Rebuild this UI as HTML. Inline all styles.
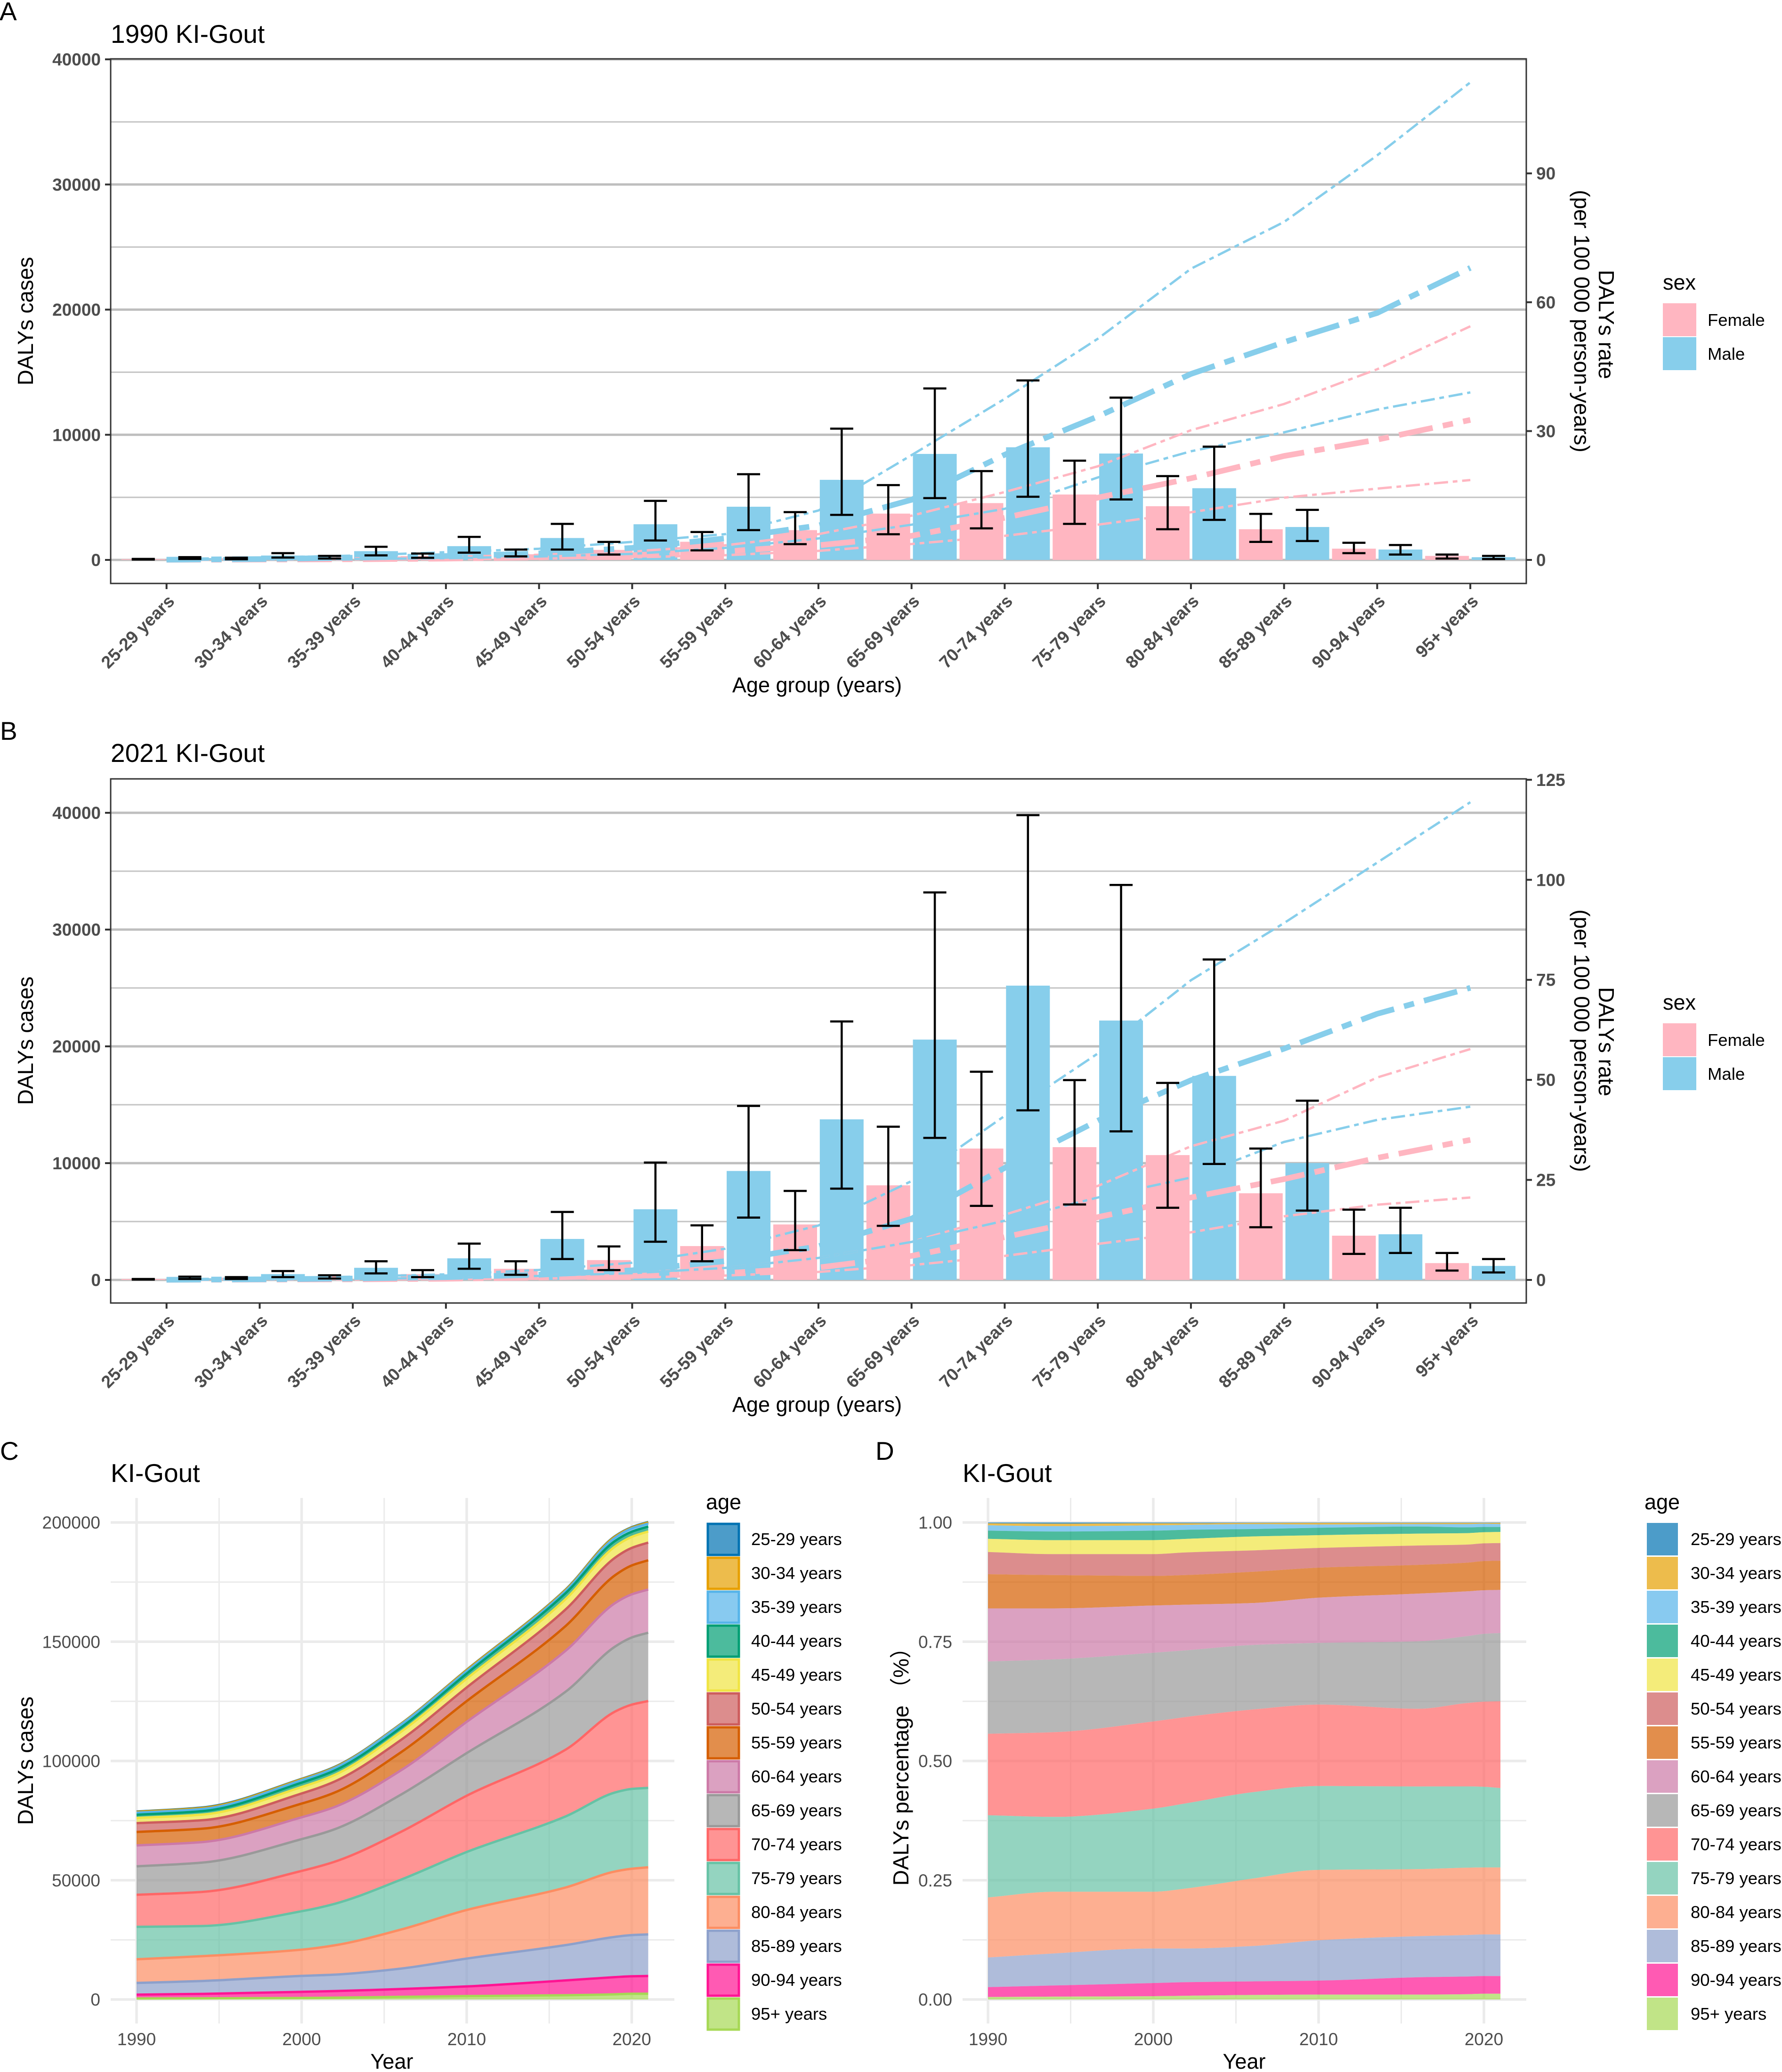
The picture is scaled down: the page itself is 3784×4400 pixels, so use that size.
<!DOCTYPE html>
<html lang="en">
<head>
<meta charset="utf-8">
<title>KI-Gout DALYs charts</title>
<style>
html,body{margin:0;padding:0;background:#fff;}
svg{display:block;}
text{font-family:"Liberation Sans","Noto Sans CJK SC",sans-serif;fill:#000;}
.tick{fill:#4d4d4d;font-size:37px;font-weight:bold;}
.tickr{fill:#4d4d4d;font-size:37px;}
.ttl{font-size:55px;}
.ax{font-size:46px;}
.axx{font-size:45px;}
.leg{font-size:36.5px;}
.legt{font-size:45px;}
.tag{font-size:55px;}
</style>
</head>
<body>
<svg id="fig" xmlns="http://www.w3.org/2000/svg" width="3784" height="4400" viewBox="0 0 3784 4400">
<rect x="0" y="0" width="3784" height="4400" fill="#fff"/>
<g id="pa"></g>
<g id="pb"></g>
<g id="pc"></g>
<g id="pd"></g>
<text class="tag" x="-1" y="43">A</text>
<text class="tag" x="0" y="1571">B</text>
<text class="tag" x="0" y="3100">C</text>
<text class="tag" x="1859" y="3100">D</text>
<text class="ttl" x="235" y="91">1990 KI-Gout</text>
<text class="ttl" x="235" y="1618">2021 KI-Gout</text>
<text class="ttl" x="235" y="3147">KI-Gout</text>
<text class="ttl" x="2044" y="3147">KI-Gout</text>
<text class="ax" transform="translate(70 682) rotate(-90)" text-anchor="middle">DALYs cases</text>
<text class="ax" transform="translate(70 2210) rotate(-90)" text-anchor="middle">DALYs cases</text>
<text class="ax" transform="translate(70 3739) rotate(-90)" text-anchor="middle">DALYs cases</text>
<text class="ax" transform="translate(1929 3740) rotate(-90)" text-anchor="middle">DALYs percentage （%）</text>
<text class="axx" x="1735" y="1470" text-anchor="middle">Age group (years)</text>
<text class="axx" x="1735" y="2998" text-anchor="middle">Age group (years)</text>
<text class="axx" x="832" y="4393" text-anchor="middle">Year</text>
<text class="axx" x="2642" y="4393" text-anchor="middle">Year</text>
<text class="ax" transform="translate(3395 689) rotate(90)" text-anchor="middle">DALYs rate</text>
<text class="ax" transform="translate(3343 682) rotate(90)" text-anchor="middle">(per 100 000 person-years)</text>
<text class="ax" transform="translate(3395 2212) rotate(90)" text-anchor="middle">DALYs rate</text>
<text class="ax" transform="translate(3343 2210) rotate(90)" text-anchor="middle">(per 100 000 person-years)</text>
<text class="legt" x="3531" y="615">sex</text>
<rect x="3531" y="644" width="71" height="70" fill="#FFB6C1"/>
<rect x="3531" y="716" width="71" height="70" fill="#87CEEB"/>
<text class="leg" x="3626" y="692">Female</text>
<text class="leg" x="3626" y="764">Male</text>
<text class="legt" x="3531" y="2144">sex</text>
<rect x="3531" y="2173" width="71" height="70" fill="#FFB6C1"/>
<rect x="3531" y="2245" width="71" height="70" fill="#87CEEB"/>
<text class="leg" x="3626" y="2221">Female</text>
<text class="leg" x="3626" y="2293">Male</text>
<text class="legt" x="1499" y="3205">age</text>
<text class="legt" x="3492" y="3205">age</text>
</svg>
<script>
const ageLabels = ['25-29 years','30-34 years','35-39 years','40-44 years','45-49 years','50-54 years','55-59 years','60-64 years','65-69 years','70-74 years','75-79 years','80-84 years','85-89 years','90-94 years','95+ years'];
const caseTicks = [0,10000,20000,30000,40000];
const caseMinorTicks = [5000,15000,25000,35000];
const rateTicks1990 = [0,30,60,90];
const rateTicks2021 = [0,25,50,75,100,125];

const male1990 = [150,350,700,1100,1750,2850,4250,6400,8470,9000,8500,5730,2630,830,216];
const female1990 = [60,130,200,300,450,800,1450,2380,3700,4540,5225,4290,2450,900,320];
const maleUpper1990 = [220,540,1050,1840,2880,4720,6850,10490,13700,14340,12970,9050,4000,1190,320];
const maleLower1990 = [75,190,360,580,830,1550,2380,3600,4940,5045,4830,3200,1510,430,70];
const femaleUpper1990 = [80,180,320,510,830,1440,2230,3820,5980,7100,7930,6700,3680,1370,430];
const femaleLower1990 = [30,50,110,170,280,430,760,1260,2050,2520,2880,2450,1440,540,110];
const maleRateUpper1990 = [0.2,0.5,1,1.8,2.6,4.2,6,11.5,24.4,37.5,51.5,67.8,78.7,94.2,111.2];
const maleRateMean1990 = [0.05,0.2,0.5,0.9,1.5,2.8,5,8,14,24.5,33.4,43.3,50.7,57.5,68];
const maleRateLower1990 = [0.03,0.1,0.2,0.4,0.8,1.4,2.8,5,8.2,11.9,19.2,25.3,29.7,35,39];
const femaleRateUpper1990 = [0.08,0.15,0.35,0.7,1.2,2,3.4,6,10.3,15.8,21.8,30.2,36.3,44.4,54.4];
const femaleRateMean1990 = [0.03,0.08,0.15,0.3,0.6,1.1,2,3.4,5.6,9.8,14.5,19,24.2,28,32.6];
const femaleRateLower1990 = [0.01,0.04,0.08,0.15,0.3,0.6,1.1,2.1,3.7,5.6,8.2,11.1,14.5,16.6,18.6];

const male2021 = [150,500,1040,1850,3510,6050,9330,13750,20580,25200,22210,17470,10010,3910,1200];
const female2021 = [80,200,300,500,950,1700,2900,4750,8100,11250,11370,10690,7420,3790,1440];
const maleUpper2021 = [280,760,1600,3110,5820,10050,14900,22130,33180,39800,33820,27440,15350,6180,1790];
const maleLower2021 = [80,240,560,960,1790,3270,5340,7820,12160,14520,12720,9930,5940,2310,640];
const femaleUpper2021 = [80,240,400,840,1600,2870,4670,7620,13120,17830,17110,16870,11250,6020,2310];
const femaleLower2021 = [30,80,120,240,440,840,1600,2550,4630,6340,6460,6180,4510,2230,800];
const maleRateUpper2021 = [0.15,0.4,0.8,1.4,2.5,4.3,7.8,13.6,24.7,41,56.6,74.9,89.2,104.3,119.4];
const maleRateMean2021 = [0.05,0.15,0.35,0.7,1.3,2.4,4.7,8.4,15.3,28,39.8,49.9,57.8,66.5,73];
const maleRateLower2021 = [0.04,0.1,0.3,0.5,1,1.7,3,5.5,9.5,14.8,20.6,25.6,34.5,40,43.3];
const femaleRateUpper2021 = [0.04,0.1,0.3,0.5,1,1.8,3,5.5,9.5,16.3,23.5,33.4,39.8,50.6,57.7];
const femaleRateMean2021 = [0.03,0.08,0.15,0.3,0.6,1,1.7,3.1,6,10.7,15.7,20.6,25.2,30.5,35];
const femaleRateLower2021 = [0.02,0.05,0.1,0.2,0.35,0.6,1.1,2,3.7,6,9,11.9,15.9,18.8,20.6];

const years = [1990,1994,2000,2002,2006,2010,2016,2019,2020,2021];
const yearTicks = [1990,2000,2010,2020];
const yearMinorTicks = [1995,2005,2015];
const totalDalys = [78800,80500,92500,97500,115500,138200,171900,194300,198000,200200];
const countTicks = [0,50000,100000,150000,200000];
const countMinorTicks = [25000,75000,125000,175000];
const shareTicks = ['0.00','0.25','0.50','0.75','1.00'];
const shareMinorTicks = [0.125,0.375,0.625,0.875];

const share2529 = [0.17,0.26,0.17,0.17,0.09,0.09,0.09,0.09,0.09,0.09];
const share3034 = [0.43,0.52,0.43,0.34,0.26,0.34,0.26,0.26,0.17,0.26];
const share3539 = [1.12,1.12,1.12,1.03,1.03,0.69,0.52,0.69,0.69,0.6];
const share4044 = [1.72,1.81,1.98,1.9,1.55,1.55,1.47,1.2,1.1,1.03];
const share4549 = [2.76,2.93,2.93,2.84,2.93,2.67,2.5,2.41,2.33,2.33];
const share5054 = [4.66,4.4,4.57,4.74,4.48,4.14,4.05,3.79,3.71,3.71];
const share5559 = [7.16,6.98,6.21,6.21,6.55,6.29,6.03,6.03,6.12,6.12];
const share6064 = [11.12,10.69,9.91,9.57,8.79,9.48,10,9.4,9.14,9.05];
const share6569 = [15.17,15.26,14.4,13.97,13.53,12.93,14.14,14.05,14.22,14.31];
const share7074 = [17.07,17.76,18.28,18.1,17.33,17.07,16.29,17.5,17.84,18.19];
const share7579 = [17.24,15.69,17.41,17.84,18.1,17.59,17.33,17.07,16.9,16.64];
const share8084 = [12.59,12.93,11.9,12.59,14.14,14.74,14.05,14.14,14.05,14.05];
const share8589 = [6.21,6.72,7.24,7.07,7.41,8.45,8.62,8.71,8.71,8.71];
const share9094 = [2.07,2.33,2.76,2.84,2.84,2.93,3.62,3.71,3.71,3.71];
const share95 = [0.52,0.6,0.69,0.78,0.95,1.03,1.03,1.12,1.21,1.21];

const ageShares = [share2529,share3034,share3539,share4044,share4549,share5054,share5559,share6064,share6569,share7074,share7579,share8084,share8589,share9094,share95];
const ageColors = ['#0072B2','#E69F00','#56B4E9','#009E73','#F0E442','#CD5C5C','#D55E00','#CC79A7','#999999','#FF6666','#66C2A5','#FC8D62','#8DA0CB','#FF1493','#A6D854'];

const NS = 'http://www.w3.org/2000/svg';
function make(tag, attrs, parent, txt){
  const e = document.createElementNS(NS, tag);
  for (const k in attrs) e.setAttribute(k, attrs[k]);
  if (txt !== undefined) e.textContent = txt;
  parent.appendChild(e);
  return e;
}
function slug(s){ return s.toLowerCase().replace(/[^a-z0-9]+/g,'-').replace(/-$/,''); }

// monotone cubic segments through points (x strictly ordered)
function curveSegments(pts){
  const n = pts.length, dx = [], m = [], t = [];
  for (let i = 0; i < n - 1; i++) {
    dx[i] = pts[i+1][0] - pts[i][0];
    m[i] = (pts[i+1][1] - pts[i][1]) / dx[i];
  }
  t[0] = m[0];
  t[n-1] = m[n-2];
  for (let i = 1; i < n - 1; i++) {
    if (m[i-1] * m[i] <= 0) { t[i] = 0; continue; }
    const w1 = 2 * dx[i] + dx[i-1], w2 = dx[i] + 2 * dx[i-1];
    t[i] = (w1 + w2) / (w1 / m[i-1] + w2 / m[i]);
  }
  let s = '';
  for (let i = 0; i < n - 1; i++) {
    const h = dx[i] / 3;
    s += ' C' + (pts[i][0] + h).toFixed(1) + ' ' + (pts[i][1] + t[i] * h).toFixed(1) + ' ' +
         (pts[i+1][0] - h).toFixed(1) + ' ' + (pts[i+1][1] - t[i+1] * h).toFixed(1) + ' ' +
         pts[i+1][0].toFixed(1) + ' ' + pts[i+1][1].toFixed(1);
  }
  return s;
}

function drawBarPanel(root, p, d){
  const x = i => p.left + (0.6 + i) * p.step;
  const yCase = v => p.zero - v * p.casePx;
  const yRate = v => p.zero - v * p.ratePx;
  caseMinorTicks.forEach(v => {
    const e = make('line',{x1:p.left,x2:p.right,y1:yCase(v),y2:yCase(v),stroke:'#c4c4c4','stroke-width':3},root);
    
    
  });
  caseTicks.forEach(v => {
    const e = make('line',{x1:p.left,x2:p.right,y1:yCase(v),y2:yCase(v),stroke:'#bebebe','stroke-width':5},root);
    
    
  });
  ageLabels.forEach((a,i) => {
    const f = make('rect',{x:x(i)-49.4-46.5,width:93,y:yCase(d.female[i]),height:d.female[i]*p.casePx,fill:'#FFB6C1'},root);
    
    
    const m = make('rect',{x:x(i)+49.4-46.5,width:93,y:yCase(d.male[i]),height:d.male[i]*p.casePx,fill:'#87CEEB'},root);
    
    
  });
  const series = [
    ['rate-line-female-upper',d.rFU,'#FFB6C1',5,'30 10 10 10'],
    ['rate-line-female-lower',d.rFL,'#FFB6C1',5,'30 10 10 10'],
    ['rate-line-female-mean',d.rFM,'#FFB6C1',12,'73 22 22 22'],
    ['rate-line-male-upper',d.rMU,'#87CEEB',5,'30 10 10 10'],
    ['rate-line-male-lower',d.rML,'#87CEEB',5,'30 10 10 10'],
    ['rate-line-male-mean',d.rMM,'#87CEEB',12,'73 22 22 22']
  ];
  series.forEach(s => {
    const pts = s[1].map((v,i) => x(i).toFixed(1) + ',' + yRate(v).toFixed(1)).join(' ');
    const l = make('polyline',{points:pts,fill:'none',stroke:s[2],'stroke-width':s[3],'stroke-dasharray':s[4]},root);
    
    
  });
  function err(cx, hi, lo, name){
    const g = make('g',{stroke:'#000','stroke-width':4.5,fill:'none'},root);
    
    
    make('line',{x1:cx,x2:cx,y1:yCase(hi),y2:yCase(lo)},g);
    make('line',{x1:cx-24.5,x2:cx+24.5,y1:yCase(hi),y2:yCase(hi)},g);
    make('line',{x1:cx-24.5,x2:cx+24.5,y1:yCase(lo),y2:yCase(lo)},g);
  }
  ageLabels.forEach((a,i) => {
    err(x(i)-49.4, d.fU[i], d.fL[i], 'error-bar-female-' + slug(a));
    err(x(i)+49.4, d.mU[i], d.mL[i], 'error-bar-male-' + slug(a));
  });
  const border = make('rect',{x:p.left,y:p.top,width:p.right-p.left,height:p.bottom-p.top,fill:'none',stroke:'#333','stroke-width':3},root);
  
  
  caseTicks.forEach(v => {
    const t = make('line',{x1:p.left-12,x2:p.left,y1:yCase(v),y2:yCase(v),stroke:'#333','stroke-width':4},root);
    
    
    const l = make('text',{x:p.left-21,y:yCase(v)+13,'text-anchor':'end','class':'tick'},root,String(v));
    
    
  });
  d.rateTicks.forEach(v => {
    const t = make('line',{x1:p.right,x2:p.right+12,y1:yRate(v),y2:yRate(v),stroke:'#333','stroke-width':4},root);
    
    
    const l = make('text',{x:p.right+21,y:yRate(v)+13,'class':'tick'},root,String(v));
    
    
  });
  ageLabels.forEach((a,i) => {
    const t = make('line',{x1:x(i),x2:x(i),y1:p.bottom,y2:p.bottom+12,stroke:'#333','stroke-width':4},root);
    
    
    const lx = x(i) + 19, ly = p.bottom + 40;
    const l = make('text',{x:lx,y:ly,'text-anchor':'end','class':'tick',transform:'rotate(-45 ' + lx + ' ' + ly + ')'},root,a);
    
    
  });
}

function drawAreaPanel(root, p){
  const x = yr => p.x1990 + (yr - 1990) * p.yearPx;
  const sums = years.map((_,k) => ageShares.reduce((s,a) => s + a[k], 0));
  const yVal = v => p.zero - v * p.valPx;
  function hgrid(v, major, name){
    const e = make('line',{x1:p.left,x2:p.right,y1:yVal(v),y2:yVal(v),stroke:'#ebebeb','stroke-width':major?5.5:3},root);
    
    
  }
  function vgrid(yr, major, name){
    const e = make('line',{x1:x(yr),x2:x(yr),y1:p.top,y2:p.bottom,stroke:'#ebebeb','stroke-width':major?5.5:3},root);
    
    
  }
  p.minorY.forEach(v => hgrid(v,false,'grid-minor-y-' + v));
  p.majorY.forEach(v => hgrid(v,true,'grid-major-y-' + v));
  yearMinorTicks.forEach(y => vgrid(y,false,'grid-minor-x-' + y));
  yearTicks.forEach(y => vgrid(y,true,'grid-major-x-' + y));

  // stack from the bottom (95+) to the top (25-29)
  const base = years.map(() => 0);
  const bands = [];
  for (let a = ageShares.length - 1; a >= 0; a--) {
    const lower = base.slice();
    ageShares[a].forEach((s,k) => { base[k] += p.value(s, sums[k], k); });
    bands[a] = {
      top: years.map((yr,k) => [x(yr), yVal(base[k])]),
      bot: years.map((yr,k) => [x(yr), yVal(lower[k])]).reverse()
    };
  }
  // paint the top layers first so lower layers overlap their outlines
  bands.forEach((b,a) => {
    const topPath = 'M' + b.top[0][0].toFixed(1) + ' ' + b.top[0][1].toFixed(1) + curveSegments(b.top);
    const areaPath = topPath + ' L' + b.bot[0][0].toFixed(1) + ' ' + b.bot[0][1].toFixed(1) + curveSegments(b.bot) + ' Z';
    const poly = make('path',{d:areaPath,fill:ageColors[a],'fill-opacity':0.7},root);
    
    
    if (p.outline) {
      const line = make('path',{d:topPath,fill:'none',stroke:ageColors[a],'stroke-width':5},root);
      
      
    }
  });
  p.yLabels.forEach((lab,i) => {
    const l = make('text',{x:p.left-22,y:yVal(p.majorY[i])+13,'text-anchor':'end','class':'tickr'},root,lab);
    
    
  });
  yearTicks.forEach(y => {
    const l = make('text',{x:x(y),y:4343,'text-anchor':'middle','class':'tickr'},root,String(y));
    
    
  });
  ageLabels.forEach((a,i) => {
    const ky = 3234 + i * 72;
    const attrs = {x:p.keyX,y:ky,width:p.keyW,height:69,fill:ageColors[i],'fill-opacity':0.7};
    if (p.outline) { attrs.stroke = ageColors[i]; attrs['stroke-width'] = 5; attrs.x = p.keyX + 2; attrs.width = p.keyW - 4; attrs.y = ky + 2; attrs.height = 66; }
    const k = make('rect',attrs,root);
    
    
    const t = make('text',{x:p.labelX,y:ky+47,'class':'leg'},root,a);
    
    
  });
}

drawBarPanel(document.getElementById('pa'),
  {left:235,right:3241,top:125,bottom:1239,step:197.75,zero:1189,casePx:0.026575,ratePx:9.12},
  {male:male1990,female:female1990,mU:maleUpper1990,mL:maleLower1990,fU:femaleUpper1990,fL:femaleLower1990,
   rMU:maleRateUpper1990,rMM:maleRateMean1990,rML:maleRateLower1990,rFU:femaleRateUpper1990,rFM:femaleRateMean1990,rFL:femaleRateLower1990,rateTicks:rateTicks1990});
drawBarPanel(document.getElementById('pb'),
  {left:235,right:3241,top:1654,bottom:2767,step:197.75,zero:2718,casePx:0.0248,ratePx:8.497},
  {male:male2021,female:female2021,mU:maleUpper2021,mL:maleLower2021,fU:femaleUpper2021,fL:femaleLower2021,
   rMU:maleRateUpper2021,rMM:maleRateMean2021,rML:maleRateLower2021,rFU:femaleRateUpper2021,rFM:femaleRateMean2021,rFL:femaleRateLower2021,rateTicks:rateTicks2021});
drawAreaPanel(document.getElementById('pc'),
  {left:235,right:1432,top:3181,bottom:4297,x1990:290,yearPx:35.05,zero:4246,valPx:1013/200000,outline:true,
   majorY:countTicks,minorY:countMinorTicks,yLabels:countTicks.map(String),keyX:1501,keyW:70,labelX:1595,
   value:(s,sum,k) => s / sum * totalDalys[k]});
drawAreaPanel(document.getElementById('pd'),
  {left:2044,right:3241,top:3181,bottom:4297,x1990:2098,yearPx:35.1,zero:4246,valPx:1013,outline:false,
   majorY:shareTicks.map(Number),minorY:shareMinorTicks,yLabels:shareTicks,keyX:3497,keyW:66,labelX:3590,
   value:(s,sum) => s / sum});
</script>
</body>
</html>
